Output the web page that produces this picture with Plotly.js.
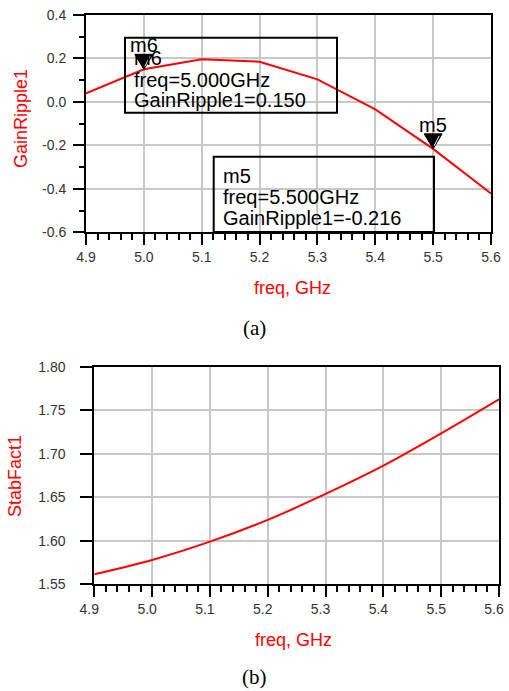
<!DOCTYPE html>
<html>
<head>
<meta charset="utf-8">
<script src="https://cdn.plot.ly/plotly-3.0.1.min.js"></script>
<style>
  html, body { margin: 0; padding: 0; background: #fff; }
  #chart { width: 509px; height: 691px; }
</style>
</head>
<body>
<div id="chart"></div>
<script>
// ---- data ----
const freq = [4.9, 5.0, 5.1, 5.2, 5.3, 5.4, 5.5, 5.6];
const gainRipple1 = [0.039, 0.150, 0.196, 0.185, 0.104, -0.034, -0.216, -0.421];
const stabFact1 = [1.5615, 1.578, 1.599, 1.624, 1.6538, 1.6863, 1.7234, 1.7625];

const markerNames = ['m6', 'm5'];
const markerFreq = [5.0, 5.5];
const markerVal = [0.150, -0.216];

const xTickVals = [4.9, 5.0, 5.1, 5.2, 5.3, 5.4, 5.5, 5.6];
const xTickText = ['4.9', '5.0', '5.1', '5.2', '5.3', '5.4', '5.5', '5.6'];
const yTickValsA = [-0.6, -0.4, -0.2, 0.0, 0.2, 0.4];
const yTickTextA = ['-0.6', '-0.4', '-0.2', '0.0', '0.2', '0.4'];
const yTickValsB = [1.55, 1.60, 1.65, 1.70, 1.75, 1.80];
const yTickTextB = ['1.55', '1.60', '1.65', '1.70', '1.75', '1.80'];

const W = 509, H = 691;
const px = v => v / W;
const py = v => 1 - v / H;

const tickFont = { family: 'Liberation Sans, Arial, sans-serif', size: 14, color: '#333' };
const boxFont = { family: 'Liberation Sans, Arial, sans-serif', size: 20, color: '#000' };
const titleFont = { family: 'Liberation Sans, Arial, sans-serif', size: 18, color: '#ff0000' };
const capFont = { family: 'Liberation Serif, Times New Roman, serif', size: 21, color: '#000' };

function xAxis(domain, anchor) {
  return {
    domain: domain, anchor: anchor, range: [4.9, 5.6],
    tickmode: 'array', tickvals: xTickVals, ticktext: xTickText,
    showgrid: true, gridcolor: '#c8c8c8', gridwidth: 2,
    showline: true, linecolor: '#000', linewidth: 2, mirror: true,
    ticks: 'outside', ticklen: 11, tickwidth: 2, tickcolor: '#000',
    minor: { dtick: 0.02, tick0: 4.9, ticks: 'outside', ticklen: 6, tickwidth: 2, tickcolor: '#000', showgrid: false },
    zeroline: false, tickfont: tickFont, fixedrange: true
  };
}

const traces = [
  { x: freq, y: gainRipple1, xaxis: 'x', yaxis: 'y', mode: 'lines',
    line: { color: '#ff0000', width: 2 }, hoverinfo: 'skip' },
  { x: freq, y: stabFact1, xaxis: 'x2', yaxis: 'y2', mode: 'lines',
    line: { color: '#ff0000', width: 2, shape: 'spline', smoothing: 0.8 }, hoverinfo: 'skip' }
];

const shapes = [];
const annotations = [];

// marker triangles + labels
markerNames.forEach((n, i) => {
  shapes.push({
    type: 'path', xref: 'x', yref: 'y', xsizemode: 'pixel', ysizemode: 'pixel',
    xanchor: markerFreq[i], yanchor: markerVal[i],
    path: 'M-9,15 L9,15 L0,0 Z', fillcolor: '#000', line: { color: '#000', width: 1 }
  });
  shapes.push({
    type: 'path', xref: 'x', yref: 'y', xsizemode: 'pixel', ysizemode: 'pixel',
    xanchor: markerFreq[i], yanchor: markerVal[i],
    path: 'M6,13 L1,3', line: { color: '#ffffff', width: 1 }
  });
  annotations.push({
    xref: 'x', yref: 'y', x: markerFreq[i], y: markerVal[i], yshift: 24,
    text: n, showarrow: false, xanchor: 'center', yanchor: 'middle', font: boxFont
  });
});

// readout boxes
const boxes = [
  { x0: 125, x1: 337, y0: 37.7, y1: 112.7, tx: 131.5, ty: [58, 80, 100], i: 0 },
  { x0: 213.7, x1: 434, y0: 156.7, y1: 232, tx: 220.5, ty: [176, 197, 217.5], i: 1 }
];
boxes.forEach(b => {
  shapes.push({ type: 'rect', xref: 'paper', yref: 'paper',
    x0: px(b.x0), x1: px(b.x1), y0: py(b.y1), y1: py(b.y0),
    line: { color: '#000', width: 2 }, fillcolor: 'rgba(0,0,0,0)' });
  const lines = [markerNames[b.i],
    'freq=' + markerFreq[b.i].toFixed(3) + 'GHz',
    'GainRipple1=' + markerVal[b.i].toFixed(3)];
  lines.forEach((t, k) => annotations.push({
    xref: 'paper', yref: 'paper', x: px(b.tx), y: py(b.ty[k]), text: t,
    showarrow: false, xanchor: 'left', yanchor: 'middle', font: boxFont
  }));
});

// axis titles and captions
const textItems = [
  { t: 'GainRipple1', x: 21, y: 119, a: -90, f: titleFont },
  { t: 'freq, GHz', x: 292, y: 288, a: 0, f: titleFont },
  { t: 'StabFact1', x: 14.5, y: 476.5, a: -90, f: titleFont },
  { t: 'freq, GHz', x: 293.5, y: 640, a: 0, f: titleFont },
  { t: '(a)', x: 254.5, y: 328, a: 0, f: capFont },
  { t: '(b)', x: 254.5, y: 677, a: 0, f: capFont }
];
textItems.forEach(o => annotations.push({
  xref: 'paper', yref: 'paper', x: px(o.x), y: py(o.y), text: o.t, textangle: o.a,
  showarrow: false, xanchor: 'center', yanchor: 'middle', font: o.f
}));

const layout = {
  width: W, height: H, margin: { l: 0, r: 0, t: 0, b: 0 },
  paper_bgcolor: '#fff', plot_bgcolor: '#fff', showlegend: false,
  xaxis: xAxis([px(86), px(491)], 'y'),
  yaxis: {
    domain: [py(232.3), py(15)], anchor: 'x', range: [-0.6, 0.4],
    tickmode: 'array', tickvals: yTickValsA, ticktext: yTickTextA,
    showgrid: true, gridcolor: '#c8c8c8', gridwidth: 2,
    showline: true, linecolor: '#000', linewidth: 2, mirror: true,
    ticks: 'outside', ticklen: 11, tickwidth: 2, tickcolor: '#000', ticklabelstandoff: 4,
    minor: { dtick: 0.1, tick0: 0, ticks: 'outside', ticklen: 5, tickwidth: 2, tickcolor: '#000', showgrid: false },
    zeroline: false, tickfont: tickFont, fixedrange: true
  },
  xaxis2: Object.assign(xAxis([px(94.3), px(499)], 'y2'), { ticklabelshift: -5 }),
  yaxis2: {
    domain: [py(584.3), py(366.7)], anchor: 'x2', range: [1.55, 1.80],
    tickmode: 'array', tickvals: yTickValsB, ticktext: yTickTextB,
    showgrid: true, gridcolor: '#c8c8c8', gridwidth: 2,
    showline: true, linecolor: '#000', linewidth: 2, mirror: true,
    ticks: 'outside', ticklen: 12, tickwidth: 2, tickcolor: '#000', ticklabelstandoff: 12,
    zeroline: false, tickfont: tickFont, fixedrange: true
  },
  shapes: shapes,
  annotations: annotations
};

Plotly.newPlot('chart', traces, layout, { staticPlot: true, displayModeBar: false });
</script>
</body>
</html>
